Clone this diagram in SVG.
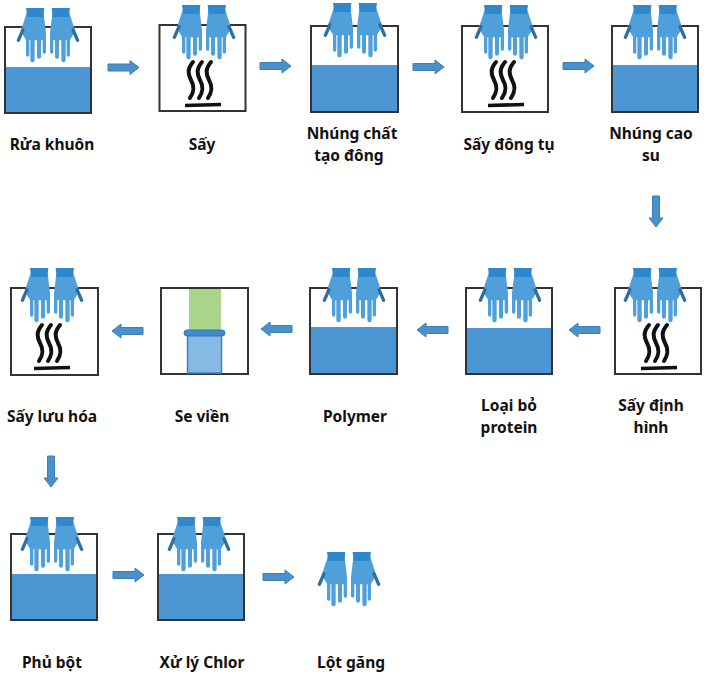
<svg xmlns="http://www.w3.org/2000/svg" width="710" height="698" viewBox="0 0 710 698">
<style>
.box{fill:#fff;stroke:#333;stroke-width:2}
.water{fill:#4b96d3}
.t{font-family:"Noto Sans","Liberation Sans",sans-serif;font-weight:700;font-size:15.500px;fill:#111;text-anchor:middle}
.ar{fill:#4a90cb;stroke:#3a7fb8;stroke-width:1}
.wave{fill:none;stroke:#111;stroke-width:4;stroke-linecap:round}
</style>
<defs>
<g id="hand">
<path d="M-62,9 H-14 L-6,75 V132 a5,5 0 0 1 -10,0 V97 H-21 V146 a6,6 0 0 1 -12,0 V97 H-40 V156 a6.500,6.500 0 0 1 -13,0 V97 H-56 V141 a5,5 0 0 1 -10,0 V95 L-82,70 Z" transform="scale(.3333)" fill="#4f9fdb"/>
<path d="M-75,65 L-89,97" transform="scale(.3333)" fill="none" stroke="#2c6fa3" stroke-width="10" stroke-linecap="round"/>
<path d="M-66,0 H-11 L-14,27 H-62 Z" transform="scale(.3333)" fill="#2f88cc"/>
</g>
<g id="gloves"><use href="#hand"/><use href="#hand" transform="scale(-1,1)"/></g>
<g id="heat">
<path class="wave" d="M-10,-36 C-16,-29 -15,-24 -12,-18 C-8,-11 -9,-6 -13,0"/>
<path class="wave" d="M-1,-36 C-7,-29 -6,-24 -3,-18 C1,-11 0,-6 -4,0"/>
<path class="wave" d="M8,-36 C2,-29 3,-24 6,-18 C10,-11 9,-6 5,0"/>
<path d="M-18,7.500 L18,6.500" stroke="#111" stroke-width="3.600" fill="none"/>
</g>
<path id="arR" class="ar" d="M0,-3.500 H22 V-7 L31,0 L22,7 V3.500 H0 Z"/>
</defs>
<g id="connectors">
<use href="#arR" transform="translate(108,67.500)"/>
<use href="#arR" transform="translate(260,66)"/>
<use href="#arR" transform="translate(413,67)"/>
<use href="#arR" transform="translate(563,66)"/>
<use href="#arR" transform="translate(656,196) rotate(90)"/>
<use href="#arR" transform="translate(600,330) rotate(180)"/>
<use href="#arR" transform="translate(448,330) rotate(180)"/>
<use href="#arR" transform="translate(292,329) rotate(180)"/>
<use href="#arR" transform="translate(143,331) rotate(180)"/>
<use href="#arR" transform="translate(51,456) rotate(90)"/>
<use href="#arR" transform="translate(113,575)"/>
<use href="#arR" transform="translate(263,577)"/>
</g>
<g id="n1"><rect class="box" x="5" y="27" width="86" height="86"/><rect class="water" x="6" y="67" width="84" height="45"/><use href="#gloves" x="48" y="8"/><text class="t" x="52" y="150">Rửa khuôn</text></g>
<g id="n2"><rect class="box" x="159.500" y="25" width="86" height="86"/><use href="#heat" x="203" y="98"/><use href="#gloves" x="204" y="5"/><text class="t" x="202" y="150">Sấy</text></g>
<g id="n3"><rect class="box" x="311" y="26" width="87" height="86"/><rect class="water" x="312" y="65" width="85" height="46"/><use href="#gloves" x="355" y="3"/><text class="t" x="352" y="139">Nhúng chất</text><text class="t" x="349" y="161">tạo đông</text></g>
<g id="n4"><rect class="box" x="462" y="26" width="86" height="86"/><use href="#heat" x="506" y="98"/><use href="#gloves" x="506" y="5"/><text class="t" x="509" y="150">Sấy đông tụ</text></g>
<g id="n5"><rect class="box" x="612" y="26" width="86" height="86"/><rect class="water" x="613" y="65" width="84" height="46"/><use href="#gloves" x="655" y="5"/><text class="t" x="651" y="139">Nhúng cao</text><text class="t" x="651" y="161">su</text></g>
<g id="n6"><rect class="box" x="615" y="288" width="86" height="86"/><use href="#heat" x="659" y="361"/><use href="#gloves" x="655" y="268"/><text class="t" x="651" y="411">Sấy định</text><text class="t" x="651" y="433">hình</text></g>
<g id="n7"><rect class="box" x="466" y="288" width="86" height="86"/><rect class="water" x="467" y="328" width="84" height="45"/><use href="#gloves" x="510" y="268"/><text class="t" x="509" y="411">Loại bỏ</text><text class="t" x="509" y="433">protein</text></g>
<g id="n8"><rect class="box" x="310" y="288" width="87" height="86"/><rect class="water" x="311" y="327" width="85" height="46"/><use href="#gloves" x="354" y="268"/><text class="t" x="355" y="422">Polymer</text></g>
<g id="n9"><rect class="box" x="161" y="288" width="87" height="86"/><rect x="189" y="289" width="32" height="43" fill="#a9d48a"/><rect x="187.500" y="335" width="34" height="38" fill="#86b9e4" stroke="#3a85c4" stroke-width="1.500"/><rect x="184" y="330" width="41" height="6" rx="3" fill="#3f8bcb" stroke="#2f78b5"/><text class="t" x="202" y="422">Se viền</text></g>
<g id="n10"><rect class="box" x="11" y="288" width="87" height="87"/><use href="#heat" x="52" y="361"/><use href="#gloves" x="52" y="268"/><text class="t" x="52" y="422">Sấy lưu hóa</text></g>
<g id="n11"><rect class="box" x="11" y="534" width="86" height="86"/><rect class="water" x="12" y="574" width="84" height="45"/><use href="#gloves" x="52" y="517"/><text class="t" x="52" y="668">Phủ bột</text></g>
<g id="n12"><rect class="box" x="158" y="534" width="86" height="86"/><rect class="water" x="159" y="574" width="84" height="45"/><use href="#gloves" x="199" y="517"/><text class="t" x="202" y="668">Xử lý Chlor</text></g>
<g id="n13"><use href="#gloves" x="349" y="552"/><text class="t" x="351" y="668">Lột găng</text></g>
</svg>
